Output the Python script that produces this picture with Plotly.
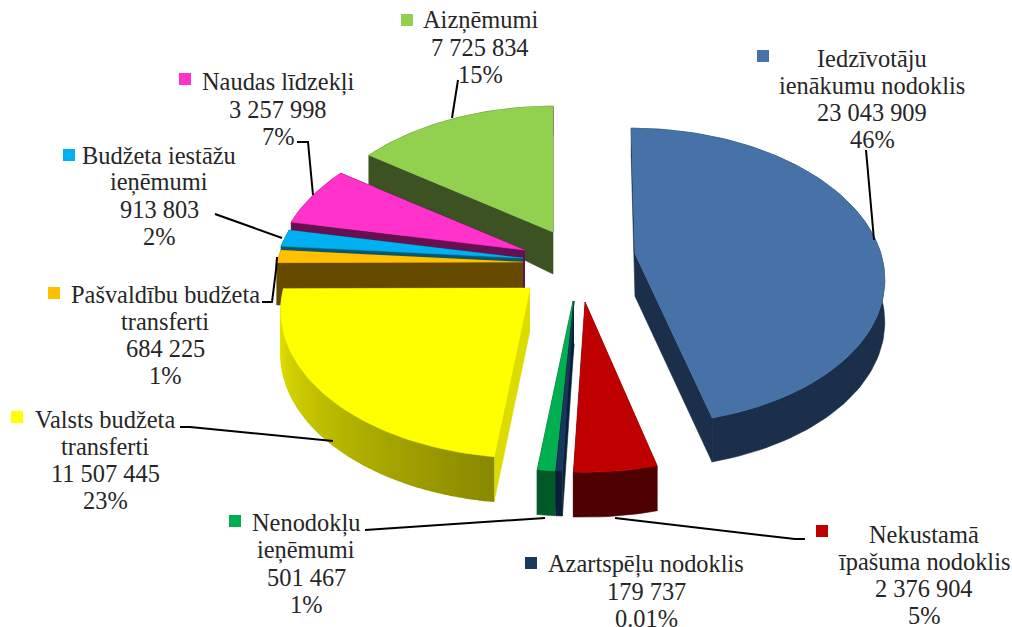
import numpy as np
import plotly.graph_objects as go

# ---- data ----
categories = ["Iedzīvotāju<br>ienākumu nodoklis", "Nekustamā<br>īpašuma nodoklis", "Azartspēļu nodoklis",
              "Nenodokļu<br>ieņēmumi", "Valsts budžeta<br>transferti", "Pašvaldību budžeta<br>transferti",
              "Budžeta iestāžu<br>ieņēmumi", "Naudas līdzekļi", "Aizņēmumi"]
values = [23043909, 2376904, 179737, 501467, 11507445, 684225, 913803, 3257998, 7725834]
value_labels = ["23 043 909", "2 376 904", "179 737", "501 467", "11 507 445", "684 225", "913 803", "3 257 998", "7 725 834"]
percent_labels = ["46%", "5%", "0.01%", "1%", "23%", "1%", "2%", "7%", "15%"]

# ---- styles ----
top_colors = ["#4672a8", "#c00000", "#17375e", "#00b050", "#ffff00", "#ffc000", "#00b0f0", "#ff33cc", "#92d050"]
wall_colors = ["#1b2f4b", "#4f0000", "#0b1f38", "#005a28", "#dcdc00", "#654a00", "#005a75", "#66104f", "#3c5222"]
apex_x = [635, 585, 574, 573, 530, 523, 523, 525, 553]
apex_y = [254, 302, 301, 301, 288, 262, 258, 250, 232]
slant = [0.03, 0, 0, 0, 0, 0, 0, 0, 0]
label_x = [872, 924, 646, 306, 105, 165, 159, 278, 480]
label_y = [58, 534, 564, 523, 419, 294, 155, 82, 20]
key_x = [763, 822, 531, 235, 17, 54, 69, 185, 407]
key_y = [56, 531, 563, 521, 417, 293, 155, 79, 20]
leaders = [
    [(866, 150), (874, 240)],
    [(805, 539), (795, 539), (615, 518)],
    [(365, 530), (545, 518)],
    [(180, 427), (190, 427), (333, 441)],
    [(262, 302), (272, 302), (276, 270), (277, 257)],
    [(215, 214), (282, 238)],
    [(297, 142), (308, 142), (313, 195)],
    [(458, 80), (452, 118)],
]
draw_order = [8, 7, 6, 5, 4, 3, 2, 1, 0]
RX, RY, PX, PY = 246, 148, 0.16, 0.15
LINE_STEP = 27


def project(i, t):
    X, Y = np.sin(t), np.cos(t)
    sy = -RY * Y * (1 - PY * Y)
    return apex_x[i] + RX * X * (1 - PX * Y) + slant[i] * sy, apex_y[i] + sy


def depth(y):
    return np.interp(y, [157, 232, 416, 475], [29, 42, 44, 45])


def poly(xs, ys, color, lw=0.6):
    return go.Scatter(x=list(xs), y=list(ys), mode="lines", fill="toself", fillcolor=color,
                      line=dict(color=color, width=lw), hoverinfo="skip", showlegend=False)


def mix(a, b, f):
    return "rgb(%d,%d,%d)" % tuple(a[k] + (b[k] - a[k]) * f for k in range(3))


edges = np.radians(np.concatenate([[0], np.cumsum(values) / np.sum(values) * 360]))
fig = go.Figure()

for i in draw_order:
    t = np.linspace(edges[i], edges[i + 1], max(4, int(np.degrees(edges[i + 1] - edges[i]) / 1.5) + 2))
    x, y = project(i, t)
    ax, ay = apex_x[i], apex_y[i]
    d = depth(y)
    da = depth(ay)
    for ex, ey, ed in [(x[0], y[0], d[0]), (x[-1], y[-1], d[-1])]:
        fig.add_trace(poly([ax, ex, ex, ax], [ay, ey, ey + ed, ay + da], wall_colors[i]))
    if i == 4:  # shaded outer wall of the yellow slice
        for k in range(len(t) - 2, -1, -1):
            f = (t[k] - t[0]) / (t[-1] - t[0])
            c = mix((138, 138, 0), (240, 240, 0), f)
            fig.add_trace(poly([x[k], x[k + 1], x[k + 1], x[k]],
                               [y[k], y[k + 1], y[k + 1] + d[k + 1], y[k] + d[k]], c, lw=1.5))
    else:
        fig.add_trace(poly(np.r_[x, x[::-1]], np.r_[y, (y + d)[::-1]], wall_colors[i]))
    fig.add_trace(poly(np.r_[ax, x], np.r_[ay, y], top_colors[i]))

for seg in leaders:
    fig.add_trace(go.Scatter(x=[p[0] for p in seg], y=[p[1] for p in seg], mode="lines",
                             line=dict(color="#000000", width=2), hoverinfo="skip", showlegend=False))

fig.add_trace(go.Scatter(x=key_x, y=key_y, mode="markers",
                         marker=dict(symbol="square", size=12, color=top_colors, line=dict(width=0)),
                         hoverinfo="skip", showlegend=False))

for i, c in enumerate(categories):
    lines = c.split("<br>") + [value_labels[i], percent_labels[i]]
    for k, line in enumerate(lines):
        fig.add_annotation(x=label_x[i], y=label_y[i] + LINE_STEP * k, xref="x", yref="y",
                           xanchor="center", yanchor="middle", text=line, showarrow=False, align="center",
                           font=dict(family="Liberation Serif", size=24.4, color="#262626"))

fig.update_xaxes(range=[0, 1012], visible=False, fixedrange=True)
fig.update_yaxes(range=[627, 0], visible=False, fixedrange=True)
fig.update_layout(width=1012, height=627, margin=dict(l=0, r=0, t=0, b=0),
                  paper_bgcolor="#ffffff", plot_bgcolor="#ffffff", showlegend=False)
fig.write_html("out.html", config={"displayModeBar": False},
               post_script="document.body.style.margin='0';document.documentElement.style.overflow='hidden';")
